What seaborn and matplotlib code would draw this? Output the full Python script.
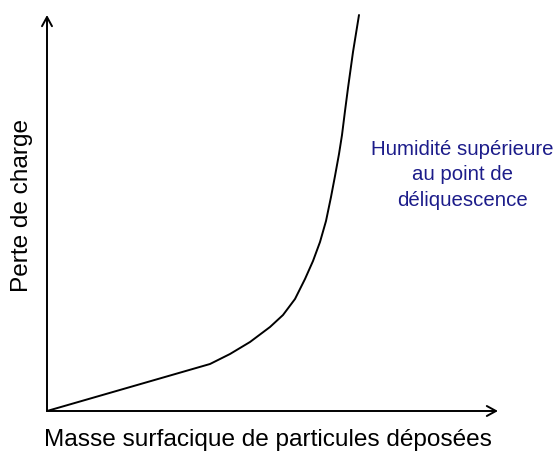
import matplotlib
matplotlib.use("Agg")
import matplotlib.pyplot as plt
import seaborn as sns
import pandas as pd

sns.set_theme(style="white")
plt.rcParams["font.family"] = ["Liberation Sans", "DejaVu Sans"]

# Pressure-drop curve: linear build-up, then steep rise once deliquescence sets in
masse = [0.0, 16.3, 18.3, 20.3, 22.3, 23.6, 24.8, 25.8, 26.6, 27.3, 27.9,
         28.4, 28.8, 29.2, 29.5, 29.8, 30.1, 30.6, 31.2]
perte = [0.0, 4.7, 5.7, 6.9, 8.4, 9.6, 11.2, 13.2, 15.0, 16.9, 19.0,
         21.4, 23.5, 25.7, 27.6, 30.0, 32.3, 35.9, 39.6]

x_label = "Masse surfacique de particules déposées"
y_label = "Perte de charge"
annotation = "Humidité supérieure\nau point de\ndéliquescence"

df = pd.DataFrame({"masse": masse, "perte": perte})

W, H = 558, 452
fig = plt.figure(figsize=(W / 100, H / 100), dpi=100)
x0, y0, x1, y1 = 47, 412, 498, 16
ax = fig.add_axes([x0 / W, (H - y0) / H, (x1 - x0) / W, (y0 - y1) / H])
ax.set_facecolor("none")

sns.lineplot(data=df, x="masse", y="perte", ax=ax, color="black",
             linewidth=1.4, sort=False, estimator=None, clip_on=False,
             solid_joinstyle="round", solid_capstyle="round")

ax.set_xlim(0, (x1 - x0) / 10)
ax.set_ylim(0, (y0 - y1) / 10)
ax.set_xticks([])
ax.set_yticks([])
ax.set_xlabel("")
ax.set_ylabel("")
for s in ax.spines.values():
    s.set_visible(False)

# Axes drawn as open arrows
arrow = dict(arrowstyle="->,head_length=0.55,head_width=0.3", color="black",
             lw=1.4, shrinkA=0, shrinkB=0)
ax.annotate("", xy=(1, 0), xytext=(0, 0), xycoords="axes fraction",
            arrowprops=arrow)
ax.annotate("", xy=(0, 1), xytext=(0, 0), xycoords="axes fraction",
            arrowprops=arrow)

fig.text(268 / W, 1 - 440 / H, x_label, ha="center", va="center",
         fontsize=17.6, color="black")
fig.text(22 / W, 1 - 206 / H, y_label, ha="center", va="center",
         rotation=90, fontsize=17.6, color="black")
fig.text(462 / W, 1 - 175 / H, annotation, ha="center", va="center",
         fontsize=14.7, color="#1c1c8a", linespacing=1.45)

fig.savefig("out.png", dpi=100, facecolor="white")
